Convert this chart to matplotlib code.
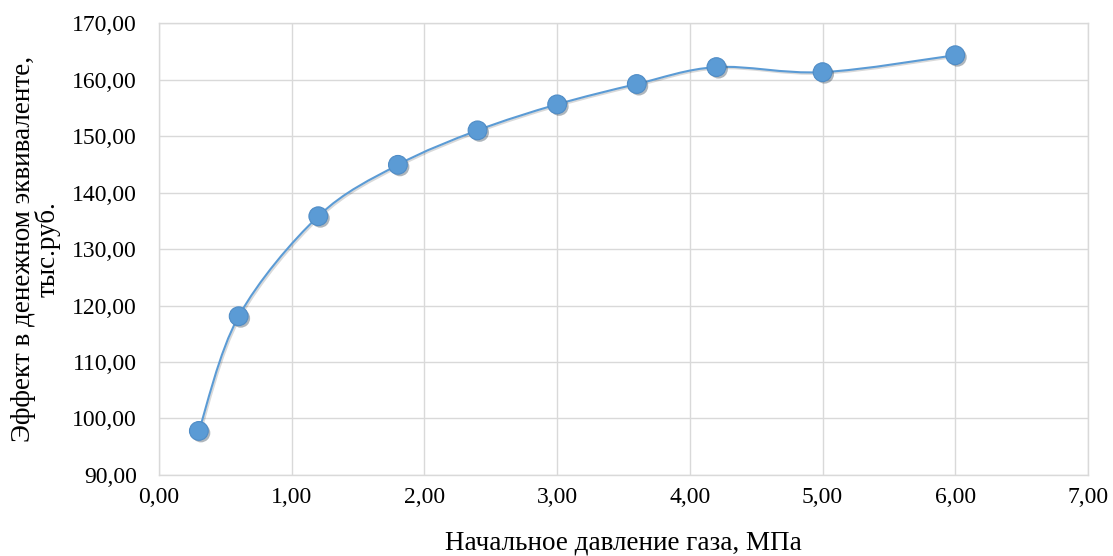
import matplotlib
matplotlib.use("Agg")
import matplotlib.pyplot as plt
import matplotlib.patheffects as pe
from matplotlib.path import Path
from matplotlib.patches import PathPatch
from matplotlib.ticker import FuncFormatter

# data
pressure = [0.3, 0.6, 1.2, 1.8, 2.4, 3.0, 3.6, 4.2, 5.0, 6.0]
effect = [97.8, 118.1, 135.8, 144.9, 151.0, 155.6, 159.2, 162.2, 161.3, 164.3]

plt.rcParams['font.family'] = ['Liberation Serif', 'DejaVu Serif']
blue = '#5B9BD5'
grid_col = '#D9D9D9'


def smooth_path(xs, ys):
    # Excel-like smoothed line: cubic Bezier segments through the points
    n = len(xs)
    verts = [(xs[0], ys[0])]
    codes = [Path.MOVETO]
    for i in range(n - 1):
        x0, y0 = (xs[i - 1], ys[i - 1]) if i > 0 else (xs[i], ys[i])
        x1, y1 = xs[i], ys[i]
        x2, y2 = xs[i + 1], ys[i + 1]
        x3, y3 = (xs[i + 2], ys[i + 2]) if i + 2 < n else (x2, y2)
        c1 = (x1 + (x2 - x0) / 6, y1 + (y2 - y0) / 6)
        c2 = (x2 - (x3 - x1) / 6, y2 - (y3 - y1) / 6)
        verts += [c1, c2, (x2, y2)]
        codes += [Path.CURVE4] * 3
    return Path(verts, codes)


fig = plt.figure(figsize=(11.13, 5.56), dpi=100)
ax = fig.add_axes([0.1429, 0.1457, 0.8346, 0.8129])

ax.add_patch(PathPatch(smooth_path(pressure, effect), facecolor='none',
                       edgecolor=blue, lw=1.5, zorder=3,
                       path_effects=[pe.SimpleLineShadow(offset=(1, -1), alpha=0.15),
                                     pe.Normal()]))
ax.plot(pressure, effect, linestyle='none', marker='o', markersize=13.5,
        markerfacecolor=blue, markeredgecolor='#4F8CC6', markeredgewidth=0.8,
        zorder=4,
        path_effects=[pe.SimplePatchShadow(offset=(1.5, -1.5), alpha=0.35),
                      pe.Normal()])

ax.set_xlim(0, 7)
ax.set_ylim(90, 170)
ax.set_xticks(range(0, 8))
ax.set_yticks(range(90, 171, 10))
fmt = FuncFormatter(lambda v, p: f"{v:.2f}".replace('.', ','))
ax.xaxis.set_major_formatter(fmt)
ax.yaxis.set_major_formatter(fmt)
ax.tick_params(length=0, labelsize=17, colors='black')
ax.tick_params(axis='x', pad=9)
ax.tick_params(axis='y', pad=16)

ax.grid(True, color=grid_col, lw=1)
ax.set_axisbelow(True)
for s in ax.spines.values():
    s.set_color(grid_col)
    s.set_linewidth(1)

ax.set_xlabel('Начальное давление газа, МПа', fontsize=19.5, labelpad=16)
ax.set_ylabel('Эффект в денежном эквиваленте,\nтыс.руб.', fontsize=19.5,
              labelpad=8, linespacing=0.95)

fig.savefig('out.png', dpi=100)
